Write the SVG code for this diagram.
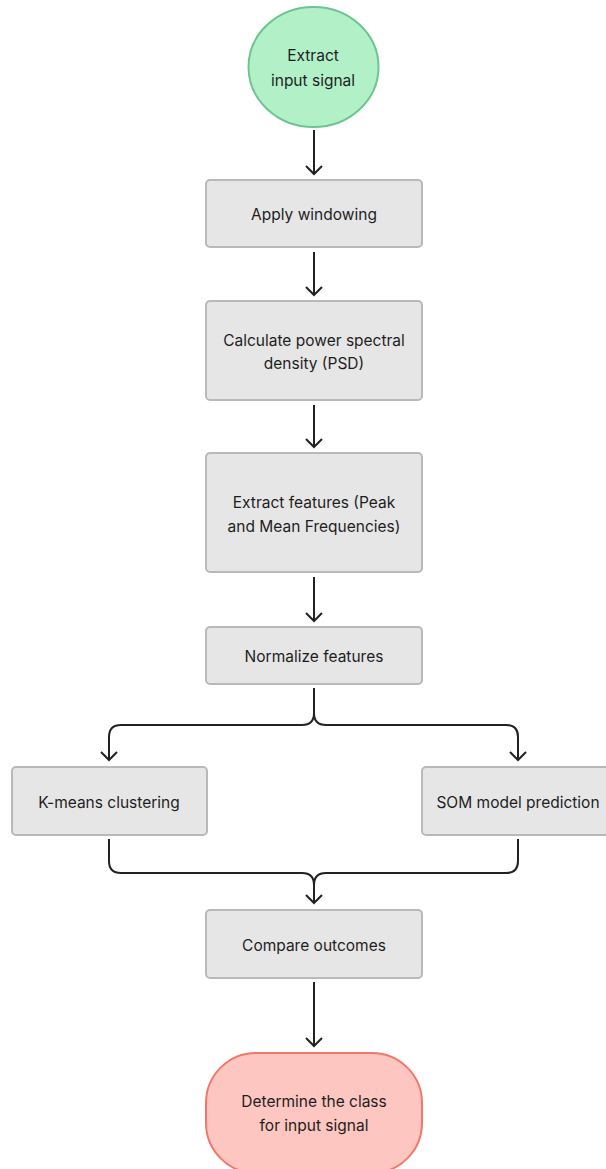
<svg xmlns="http://www.w3.org/2000/svg" width="606" height="1169" viewBox="0 0 606 1169">
<style>
.box{fill:#e6e6e6;stroke:#b9b9b9;stroke-width:2}
.t{font-family:Inter,"Liberation Sans",sans-serif;font-size:15.5px;fill:#1e1e1e;text-anchor:middle;dominant-baseline:central}
.c{fill:none;stroke:#222;stroke-width:2}
</style>
<defs>
<marker id="ah" markerUnits="userSpaceOnUse" markerWidth="24" markerHeight="24" viewBox="-12 -12 24 24" refX="0" refY="0" orient="auto">
<path d="M-8,-8 L0,0 L-8,8" fill="none" stroke="#222" stroke-width="2"/>
</marker>
</defs>
<rect width="606" height="1169" fill="#fff"/>
<g id="connectors">
<path class="c" d="M314 130 V174" marker-end="url(#ah)"/>
<path class="c" d="M314 252 V295" marker-end="url(#ah)"/>
<path class="c" d="M314 405 V447" marker-end="url(#ah)"/>
<path class="c" d="M314 577 V621" marker-end="url(#ah)"/>
<path class="c" d="M314 688 V713 Q314 725 302 725 H121 Q109 725 109 737 V760" marker-end="url(#ah)"/>
<path class="c" d="M314 713 Q314 725 326 725 H506 Q518 725 518 737 V760" marker-end="url(#ah)"/>
<path class="c" d="M109 839 V861 Q109 873 121 873 H302 Q314 873 314 885 V903" marker-end="url(#ah)"/>
<path class="c" d="M518 839 V861 Q518 873 506 873 H326 Q314 873 314 885"/>
<path class="c" d="M314 982 V1046" marker-end="url(#ah)"/>
</g>
<g id="n1">
<ellipse cx="313.5" cy="67" rx="65" ry="60" fill="#b2f0c8" stroke="#6cc58f" stroke-width="2"/>
<text class="t" x="313" y="55">Extract</text>
<text class="t" x="313" y="80">input signal</text>
</g>
<g id="n2">
<rect class="box" x="206" y="180" width="216" height="67" rx="4"/>
<text class="t" x="314" y="214">Apply windowing</text>
</g>
<g id="n3">
<rect class="box" x="206" y="301" width="216" height="99" rx="4"/>
<text class="t" x="314" y="340">Calculate power spectral</text>
<text class="t" x="314" y="363">density (PSD)</text>
</g>
<g id="n4">
<rect class="box" x="206" y="453" width="216" height="119" rx="4"/>
<text class="t" x="314" y="502">Extract features (Peak</text>
<text class="t" x="314" y="526">and Mean Frequencies)</text>
</g>
<g id="n5">
<rect class="box" x="206" y="627" width="216" height="57" rx="4"/>
<text class="t" x="314" y="656">Normalize features</text>
</g>
<g id="n6">
<rect class="box" x="12" y="767" width="195" height="68" rx="4"/>
<text class="t" x="109" y="802">K-means clustering</text>
</g>
<g id="n7">
<rect class="box" x="422" y="767" width="195" height="68" rx="4"/>
<text class="t" x="518" y="802">SOM model prediction</text>
</g>
<g id="n8">
<rect class="box" x="206" y="910" width="216" height="68" rx="4"/>
<text class="t" x="314" y="945">Compare outcomes</text>
</g>
<g id="n9">
<rect x="206" y="1053" width="216" height="120" rx="50" fill="#fdc6c0" stroke="#f2776a" stroke-width="2"/>
<text class="t" x="314" y="1101">Determine the class</text>
<text class="t" x="314" y="1125">for input signal</text>
</g>
</svg>
